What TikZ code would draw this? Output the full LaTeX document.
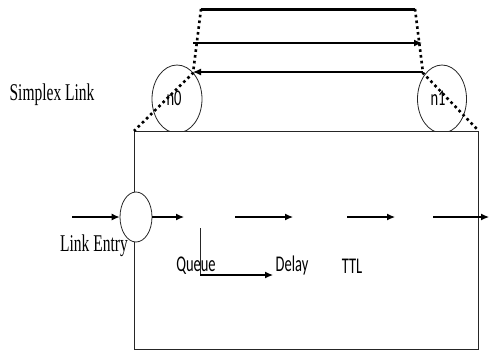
\documentclass[tikz,border=0pt]{standalone}
\usepackage{fontspec}
\usepackage{graphicx}
\setmainfont{Liberation Serif}
\newfontfamily\calfont{Carlito}
\usetikzlibrary{arrows.meta,shapes.geometric}
\newcommand\vstretch[1]{\scalebox{1}[1.55]{#1}}
\tikzset{
  thinline/.style={line width=0.8pt, black!85},
  arr/.style={line width=1.2pt, -{Latex[length=8pt,width=7pt]}},
  dotline/.style={line width=2.6pt, dash pattern=on 2.6pt off 3.2pt},
  nodecircle/.style={draw, thinline, ellipse, fill=white, inner sep=0pt},
  serlabel/.style={font=\fontsize{15.5}{16}\selectfont, inner sep=0pt},
  sanlabel/.style={font=\calfont\fontsize{14.5}{15}\selectfont, inner sep=0pt}
}
\begin{document}
\begin{tikzpicture}[x=1pt,y=-1pt]
\useasboundingbox (0,0) rectangle (489,351);
% node circles
\node[nodecircle, minimum width=50pt, minimum height=68pt] (n0) at (177,99) {};
\node[nodecircle, minimum width=49pt, minimum height=68pt] (n1) at (442,99) {};
\node[sanlabel] (n0t) at (174,98) {\vstretch{n0}};
\node[sanlabel] (n1t) at (438,98) {\vstretch{n1}};
% main box
\node[draw, thinline, fill=white, anchor=north west, minimum width=344pt, minimum height=218pt, inner sep=0pt] (box) at (134,131) {};
% top link
\coordinate (tl) at (201,9);
\coordinate (tr) at (415,9);
\coordinate (ml) at (193,73);
\coordinate (mr) at (423,73);
\draw[line width=3pt] (tl) -- (tr);
\draw[dotline] (tl) -- (ml) -- (box.north west);
\draw[dotline] (tr) -- (mr) -- (box.north east);
\coordinate (a1s) at (193,43);
\coordinate (a1e) at (422,43);
\draw[arr] (a1s) -- (a1e);
\coordinate (a2s) at (423,72);
\coordinate (a2e) at (193,72);
\draw[arr] (a2s) -- (a2e);
% link entry
\node[nodecircle, minimum width=32pt, minimum height=50pt] (le) at (136,217) {};
\coordinate (in) at (72,217);
\draw[arr] (in) -- (le.west);
\coordinate (q1) at (184,217);
\draw[arr] (le.east) -- (q1);
\coordinate (d0) at (235,217);
\coordinate (d1) at (293,217);
\draw[arr] (d0) -- (d1);
\coordinate (t0) at (347,217);
\coordinate (t1) at (395,217);
\draw[arr] (t0) -- (t1);
\coordinate (o0) at (433,217);
\coordinate (o1) at (489,217);
\draw[arr] (o0) -- (o1);
% queue to delay
\coordinate (v0) at (200,228);
\coordinate (v1) at (200,275);
\coordinate (v2) at (273,275);
\draw[thinline] (v0) -- (v1);
\draw[arr] (v1) -- (v2);
% labels
\node[serlabel] (simplex) at (52,95) {\vstretch{Simplex Link}};
\node[serlabel] (entry) at (94,246) {\vstretch{Link Entry}};
\node[sanlabel] (queue) at (196,266) {\vstretch{Queue}};
\node[sanlabel] (delay) at (292,266) {\vstretch{Delay}};
\node[sanlabel] (ttl) at (352,266) {\vstretch{TTL}};
\end{tikzpicture}
\end{document}
